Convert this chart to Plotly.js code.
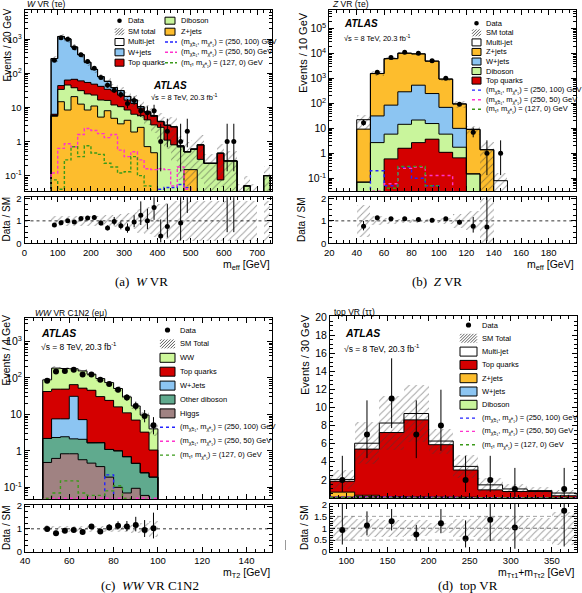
<!DOCTYPE html>
<html>
<head>
<meta charset="utf-8">
<script src="https://cdn.plot.ly/plotly-3.0.1.min.js"></script>
<style>
  html, body { margin: 0; padding: 0; background: #ffffff; }
  #fig { width: 582px; height: 593px; }
</style>
</head>
<body>
<div id="fig"></div>
<script>
// ===== (a) W VR (τe): m_eff, 20 GeV bins =====
const wEdges = [80,100,120,140,160,180,200,220,240,260,280,300,320,340,360,380,400,420,440,460,480,500,520,540,560,580,600,620,640,660,680,700,720,740];
const wZjets = [5.5,14.7,8.4,20.7,12.5,8.4,11,5.2,8.0,4.8,3.3,4.2,1.9,2.6,0.71,0.47,0,0,0,0,0.15,0.15,0,0,0,0,0,0,0,0,0,0,0];
const wDiboson = [0.3,19,37,17,18.5,16.5,12,11.3,8,7,7.2,4.2,4.4,3.1,3.6,2.6,2.6,1.1,0.8,0.7,0.35,0.45,0.3,0.23,0.23,0.075,0.27,0.27,0.03,0.05,0.03,0,0.1];
const wTop = [0.5,10,18,29,29,29,25,25,18,19,12.5,8,6.7,3.8,2.7,2.4,1.2,1.9,1.9,0,0,0,0.5,0,0,0.38,0,0,0,0,0,0,0];
const wWjets = [264,1156,957,523,290,156,82,38,24,7,8,4.5,3.5,1.0,0.4,0.3,0.1,0,0,0.05,0,0,0,0,0,0,0,0,0,0,0,0,0];
const wMultijet = [1,3,3,2,1.5,1,0.5,0.5,0.3,0.3,0.2,0.2,0.1,0.1,0,0,0,0,0,0,0,0,0,0,0,0,0,0,0,0,0,0,0];
const wData = [240,1100,1000,560,350,220,140,75,45,32,24,13,16,8,7,8,1,2,0,1,2,0,0,0,0,0,1,1,0,0,0,0,0];
const wRatio = [0.82,0.92,1.0,0.95,1.1,1.13,1.15,0.9,0.68,0.97,0.78,0.65,0.95,1.25,1.0,1.6,0.32,0.75,null,0.9,4.0,null,null,null,null,null,3.7,3.7,null,null,null,null,null];
const wRelErr = [0.22,0.22,0.22,0.22,0.22,0.22,0.22,0.22,0.25,0.28,0.3,0.33,0.38,0.55,0.6,0.7,0.75,0.8,0.9,0.9,0.9,0.9,0.9,0.9,0.9,0.9,0.9,0.9,0.9,0.9,0.9,0.9,0.9];
const wSig250_100 = [0,0,0,0,0,0,0,0,0,0,0,0,0,0,0,0,0.04,0.045,0.045,0.055,0.045,0,0,0,0,0,0,0,0,0,0,0,0];
const wSig250_50 = [0.12,0.63,0.86,0.7,1.6,2.4,2.1,1.7,1.3,1.6,0.56,0.36,0.5,0.29,0.16,0.15,0.16,0.15,0.05,0.18,0.04,0,0,0,0,0,0,0,0,0,0,0,0];
const wSig127_0 = [0.075,0.04,0.29,0.7,0.36,0.75,0.46,0.42,0.23,0.18,0.12,0.13,0.36,0.1,0.05,0,0,0,0,0,0,0,0,0,0,0,0,0,0,0,0,0,0];

// ===== (b) Z VR (τe): m_eff, 10 GeV bins =====
const zEdges = [40,50,60,70,80,90,100,110,120,130,140,150];
const zTop = [0,0,0.6,1.6,2.7,3.7,1.1,0.66,0,0,0];
const zDiboson = [0.07,2.7,5.3,13,19,12,4.8,1.1,0.15,0,0];
const zWjets = [0,29,80,280,520,235,64,8.3,0,0,0];
const zZjets = [9.3,1550,6200,10100,9250,4750,880,85,9,1.4,0];
const zMultijet = [13,20,30,20,10,5,5,2,0.05,0,0.08];
const zData = [17,1800,7000,11400,10400,5200,1040,93,7,1,1];
const zRatio = [0.76,1.14,1.09,1.09,1.06,1.03,1.09,0.94,0.76,0.73,null];
const zRelErr = [0.6,0.2,0.13,0.1,0.1,0.1,0.15,0.3,0.42,1.0,0.95];
const zRatioBand = [0.7,0.2,0.13,0.1,0.1,0.1,0.15,0.32,0.42,1.0,null];
const zSig250_100 = [0,0.2,0.05,0.28,0.1,0.05,0,0,0,0,0];
const zSig250_50 = [0,0.03,0.06,0.25,0.28,0.13,0.13,0,0,0,0];
const zSig127_0 = [0,0,0.04,0.3,0.3,0.05,0,0,0,0,0];

// ===== (c) WW VR C1N2 (eμ): m_T2, 4 GeV bins =====
const wwEdges = [48,52,56,60,64,68,72,76,80,84,88,92,96,100];
const wwHiggs = [0.48,0.62,0.83,0.83,0.57,0.46,0.37,0.19,0.1,0.07,0.094,0.06,0];
const wwOtherDib = [1.7,1.7,1.6,1.3,1.5,1.2,1.3,0.9,0.9,0.62,0.36,0.19,0.19];
const wwWjets = [0,5.2,5.1,29,5.1,0,0,0,0,0,0,0,0];
const wwTop = [40,41.5,41.5,34,45,44,29,23,15,10.3,6.5,3.0,0.86];
const wwWW = [46,136,131,112,103,80,65,50,35,19,10,6.3,2.95];
const wwData = [83,150,155,166,124,124,88,68,47,29,17,9,5];
const wwRatio = [0.99,0.8,0.92,0.95,0.86,1.1,0.88,1.06,1.14,1.1,1.17,0.95,1.02];
const wwRelErr = [0.15,0.13,0.13,0.13,0.13,0.13,0.13,0.13,0.15,0.15,0.18,0.25,0.35];
const wwSig250_100 = [0,0,0,0,0,0,0,0.22,0,0,0,0,0];
const wwSig250_50 = [0.05,0.05,0.05,0.05,0.05,0.05,0.05,0.05,0.05,0.05,0.05,0.05,0.05];
const wwSig127_0 = [0.05,0.07,0.15,0.15,0.07,0.06,0.06,0.08,0.11,0.05,0,0,0];

// ===== (d) top VR (ττ): m_Tτ1+m_Tτ2, 30 GeV bins =====
const tEdges = [80,110,140,170,200,230,260,290,320,350,380];
const tDiboson = [0.05,0.05,0.03,0.03,0.02,0.02,0,0,0,0];
const tWjets = [0.05,0.1,0.05,0.05,0.05,0.05,0,0,0,0];
const tZjets = [0.55,0.15,0.05,0.05,0.02,0.02,0,0,0,0];
const tTop = [1.2,5.1,7.1,8.5,5.8,3.0,0.9,0.72,0.72,0.25];
const tMultijet = [0.2,0.65,1.05,0.7,0.4,0.4,0.55,0.28,0.1,0.3];
const tData = [2,7,11,7,8,2,2,1,0,1];
const tRatio = [0.93,1.11,1.29,0.74,1.21,0.57,1.36,1.03,null,1.74];
const tRelErr = [0.52,0.38,0.36,0.34,0.22,0.37,0.52,0.5,0.45,0.7];
const tSig250_100 = [0.08,0.1,0.08,0.06,0.05,0.04,0.03,0.03,0.02,0.02];
const tSig250_50 = [0.06,0.08,0.07,0.05,0.04,0.03,0.02,0.02,0.02,0.01];
const tSig127_0 = [0.02,0.03,0.03,0.02,0.02,0.01,0.01,0,0,0];

// ===== styling =====
const FONT = 'Liberation Sans, Arial, Helvetica, sans-serif';
const SERIF = 'Liberation Serif, Times New Roman, serif';
const COL = {
  wjets: '#8cc5f2', zjets: '#fdbd2d', diboson: '#c9f59c', top: '#d40000', multijet: '#ffffff',
  ww: '#cdf89a', otherdib: '#60aa8e', higgs: '#a08282',
  sigBlue: '#2323ff', sigMagenta: '#ff33cc', sigGreen: '#3a9a1a'
};

const W = 582, H = 593;
const px = x => x / W;
const py = y => 1 - y / H;

const traces = [];
const shapes = [];
const annotations = [];

function centers(e) { const c = []; for (let i = 0; i < e.length - 1; i++) c.push((e[i] + e[i + 1]) / 2); return c; }
function widths(e) { const c = []; for (let i = 0; i < e.length - 1; i++) c.push(e[i + 1] - e[i]); return c; }

// closed histogram outline (drops to the floor at both ends and at empty bins)
function stepPath(edges, vals, floor) {
  const x = [edges[0]], y = [floor];
  for (let i = 0; i < vals.length; i++) {
    const v = vals[i] > 0 ? vals[i] : floor;
    x.push(edges[i], edges[i + 1]); y.push(v, v);
  }
  x.push(edges[edges.length - 1]); y.push(floor);
  return { x, y };
}

// approximate 68% Poisson interval on an observed count
function poissonUp(n) { return Math.sqrt(n + 0.75) + 1; }
function poissonDown(n) { return n > 0 ? Math.sqrt(n - 0.25) : 0; }

function hatchBar(x, w, base, span, xa, ya) {
  return {
    type: 'bar', x, y: span, base, width: w, xaxis: xa, yaxis: ya, hoverinfo: 'skip',
    marker: { color: 'rgba(0,0,0,0)', line: { width: 0 },
      pattern: { shape: '/', size: 5, solidity: 0.18, fgcolor: '#3a3a3a', bgcolor: 'rgba(0,0,0,0)', fillmode: 'overlay' } }
  };
}
function lineTrace(s, xa, ya, color, width, dash) {
  return { type: 'scatter', mode: 'lines', x: s.x, y: s.y, xaxis: xa, yaxis: ya, hoverinfo: 'skip',
    line: { color, width, dash, shape: 'linear' } };
}

function drawPanel(p) {
  const [xa, ya, xr, yr] = p.axes;
  const c = centers(p.edges), w = widths(p.edges), n = c.length;
  const floor = p.log ? 1e-5 : 0;
  let cum = new Array(n).fill(0);
  const tops = [];
  for (const L of p.layers) {
    const base = cum.map(v => Math.max(v, floor));
    traces.push({ type: 'bar', x: c, y: L.vals.slice(), base, width: w, xaxis: xa, yaxis: ya,
      marker: { color: L.color, line: { width: 0 } }, hoverinfo: 'skip' });
    cum = cum.map((v, i) => v + L.vals[i]);
    tops.push(cum);
  }
  const total = cum;

  // SM uncertainty band
  const lo = [], span = [];
  total.forEach((t, i) => {
    if (t > 0 && p.relErr[i] != null) {
      const l = Math.max(t * (1 - p.relErr[i]), floor);
      lo.push(l); span.push(t * (1 + p.relErr[i]) - l);
    } else { lo.push(null); span.push(null); }
  });
  traces.push(hatchBar(c, w, lo, span, xa, ya));

  // stack outlines
  tops.forEach(t => traces.push(lineTrace(stepPath(p.edges, t, floor), xa, ya, '#000', 1, 'solid')));

  // signal benchmarks
  p.signals.forEach(S => traces.push(lineTrace(stepPath(p.edges, S.vals, floor), xa, ya, S.color, 1.4, S.dash)));

  // data
  traces.push({ type: 'scatter', mode: 'markers', x: c, y: p.data.map(v => v > 0 ? v : null), xaxis: xa, yaxis: ya,
    hoverinfo: 'skip', marker: { color: '#000', size: p.msize },
    error_y: { type: 'data', symmetric: false, array: p.data.map(v => v > 0 ? poissonUp(v) : 0),
      arrayminus: p.data.map(v => v > 0 ? poissonDown(v) : 0), color: '#000', thickness: 1, width: 0 } });

  // ratio band
  const band = p.ratioBand || p.relErr;
  const rlo = [], rspan = [];
  band.forEach((e, i) => {
    if (e == null || !(total[i] > 0)) { rlo.push(null); rspan.push(null); }
    else { const l = Math.max(0, 1 - e); rlo.push(l); rspan.push(Math.min(1 + e, 3) - l); }
  });
  traces.push(hatchBar(c, w, rlo, rspan, xr, yr));

  // ratio points
  traces.push({ type: 'scatter', mode: 'markers', x: c, y: p.ratio, xaxis: xr, yaxis: yr, hoverinfo: 'skip',
    marker: { color: '#000', size: p.msize },
    error_y: { type: 'data', symmetric: false,
      array: p.ratio.map((r, i) => r == null ? 0 : r * poissonUp(p.data[i]) / p.data[i]),
      arrayminus: p.ratio.map((r, i) => r == null ? 0 : r * poissonDown(p.data[i]) / p.data[i]),
      color: '#000', thickness: 1, width: 0 } });
}

drawPanel({
  axes: ['x', 'y', 'x2', 'y2'], log: true, edges: wEdges, msize: 5,
  layers: [
    { vals: wZjets, color: COL.zjets }, { vals: wDiboson, color: COL.diboson },
    { vals: wTop, color: COL.top }, { vals: wWjets, color: COL.wjets }, { vals: wMultijet, color: COL.multijet }
  ],
  relErr: wRelErr, data: wData, ratio: wRatio,
  signals: [
    { vals: wSig250_100, color: COL.sigBlue, dash: '3px,2px' },
    { vals: wSig250_50, color: COL.sigMagenta, dash: '3px,2px' },
    { vals: wSig127_0, color: COL.sigGreen, dash: '3px,2px' }
  ]
});
drawPanel({
  axes: ['x3', 'y3', 'x4', 'y4'], log: true, edges: zEdges, msize: 5,
  layers: [
    { vals: zTop, color: COL.top }, { vals: zDiboson, color: COL.diboson },
    { vals: zWjets, color: COL.wjets }, { vals: zZjets, color: COL.zjets }, { vals: zMultijet, color: COL.multijet }
  ],
  relErr: zRelErr, ratioBand: zRatioBand, data: zData, ratio: zRatio,
  signals: [
    { vals: zSig250_100, color: COL.sigBlue, dash: 'dot' },
    { vals: zSig250_50, color: COL.sigMagenta, dash: 'dot' },
    { vals: zSig127_0, color: COL.sigGreen, dash: 'dot' }
  ]
});
drawPanel({
  axes: ['x5', 'y5', 'x6', 'y6'], log: true, edges: wwEdges, msize: 6,
  layers: [
    { vals: wwHiggs, color: COL.higgs }, { vals: wwOtherDib, color: COL.otherdib },
    { vals: wwWjets, color: COL.wjets }, { vals: wwTop, color: COL.top }, { vals: wwWW, color: COL.ww }
  ],
  relErr: wwRelErr, data: wwData, ratio: wwRatio,
  signals: [
    { vals: wwSig250_100, color: COL.sigBlue, dash: 'dot' },
    { vals: wwSig250_50, color: COL.sigMagenta, dash: 'dot' },
    { vals: wwSig127_0, color: COL.sigGreen, dash: 'dot' }
  ]
});
drawPanel({
  axes: ['x7', 'y7', 'x8', 'y8'], log: false, edges: tEdges, msize: 6,
  layers: [
    { vals: tDiboson, color: COL.diboson }, { vals: tWjets, color: COL.wjets },
    { vals: tZjets, color: COL.zjets }, { vals: tTop, color: COL.top }, { vals: tMultijet, color: COL.multijet }
  ],
  relErr: tRelErr, data: tData, ratio: tRatio,
  signals: [
    { vals: tSig250_100, color: COL.sigBlue, dash: 'dot' },
    { vals: tSig250_50, color: COL.sigMagenta, dash: 'dot' },
    { vals: tSig127_0, color: COL.sigGreen, dash: 'dot' }
  ]
});

// ===== axes =====
const AX = {
  showline: true, linecolor: '#000', linewidth: 1, mirror: 'allticks', ticks: 'inside', ticklen: 5,
  tickwidth: 1, tickcolor: '#000', showgrid: false, zeroline: false, fixedrange: true,
  tickfont: { family: FONT, size: 9.5, color: '#000' }
};
function xAx(d, range, o) { return Object.assign({}, AX, { domain: [px(d[0]), px(d[1])], range }, o); }
function yAx(d, range, o) { return Object.assign({}, AX, { domain: [py(d[1]), py(d[0])], range }, o); }
function logMinor(lo, hi) { const v = []; for (let e = lo; e <= hi; e++) for (let m = 2; m <= 9; m++) v.push(m * Math.pow(10, e)); return v; }
const SUP = e => e === 0 ? '1' : (e === 1 ? '10' : '10<sup>' + e + '</sup>');
function logTicks(lo, hi) { const v = [], t = []; for (let e = lo; e <= hi; e++) { v.push(Math.pow(10, e)); t.push(SUP(e)); } return { v, t }; }

const A_X = [24.5, 272], B_X = [329.3, 576], C_X = [25, 272], D_X = [330, 576.5];
const AB_MAIN = [9.5, 191], AB_RATIO = [197.3, 243.3];
const C_MAIN = [318, 499], C_RATIO = [505, 551.5];
const D_MAIN = [316, 498], D_RATIO = [504, 552];

const ltA = logTicks(-1, 3), ltB = logTicks(-1, 5), ltC = logTicks(-1, 3);
const ratioY = (d) => yAx(d, [0, 2.05], { tickmode: 'array', tickvals: [0, 1, 2], ticktext: ['0', '1', '2'],
  minor: { ticks: 'inside', ticklen: 3, tickmode: 'array', tickvals: [0.25, 0.5, 0.75, 1.25, 1.5, 1.75], tickcolor: '#000' } });

const layout = {
  width: W, height: H, margin: { l: 0, r: 0, t: 0, b: 0 }, showlegend: false,
  paper_bgcolor: '#ffffff', plot_bgcolor: '#ffffff', barmode: 'overlay', bargap: 0,
  font: { family: FONT, color: '#000' },

  xaxis: xAx(A_X, [0, 745], { anchor: 'y', showticklabels: false, tick0: 0, dtick: 100,
    minor: { ticks: 'inside', ticklen: 3, tick0: 0, dtick: 20, tickcolor: '#000' } }),
  yaxis: yAx(AB_MAIN, [-1.45, 3.87], { anchor: 'x', type: 'log', tickmode: 'array', tickvals: ltA.v, ticktext: ltA.t,
    minor: { ticks: 'inside', ticklen: 3, tickmode: 'array', tickvals: logMinor(-2, 3), tickcolor: '#000' } }),
  xaxis2: xAx(A_X, [0, 745], { anchor: 'y2', tick0: 0, dtick: 100,
    minor: { ticks: 'inside', ticklen: 3, tick0: 0, dtick: 20, tickcolor: '#000' } }),
  yaxis2: Object.assign(ratioY(AB_RATIO), { anchor: 'x2' }),

  xaxis3: xAx(B_X, [20, 200], { anchor: 'y3', showticklabels: false, tick0: 0, dtick: 20,
    minor: { ticks: 'inside', ticklen: 3, tick0: 0, dtick: 5, tickcolor: '#000' } }),
  yaxis3: yAx(AB_MAIN, [-1.51, 5.77], { anchor: 'x3', type: 'log', tickmode: 'array', tickvals: ltB.v, ticktext: ltB.t,
    tickfont: { family: FONT, size: 10.5, color: '#000' },
    minor: { ticks: 'inside', ticklen: 3, tickmode: 'array', tickvals: logMinor(-2, 5), tickcolor: '#000' } }),
  xaxis4: xAx(B_X, [20, 200], { anchor: 'y4', tick0: 0, dtick: 20,
    minor: { ticks: 'inside', ticklen: 3, tick0: 0, dtick: 5, tickcolor: '#000' } }),
  yaxis4: Object.assign(ratioY(AB_RATIO), { anchor: 'x4' }),

  xaxis5: xAx(C_X, [40, 151.5], { anchor: 'y5', showticklabels: false, tick0: 40, dtick: 20,
    minor: { ticks: 'inside', ticklen: 3, tick0: 40, dtick: 4, tickcolor: '#000' } }),
  yaxis5: yAx(C_MAIN, [-1.32, 3.64], { anchor: 'x5', type: 'log', tickmode: 'array', tickvals: ltC.v, ticktext: ltC.t,
    tickfont: { family: FONT, size: 10.5, color: '#000' },
    minor: { ticks: 'inside', ticklen: 3, tickmode: 'array', tickvals: logMinor(-2, 3), tickcolor: '#000' } }),
  xaxis6: xAx(C_X, [40, 151.5], { anchor: 'y6', tick0: 40, dtick: 20,
    minor: { ticks: 'inside', ticklen: 3, tick0: 40, dtick: 4, tickcolor: '#000' } }),
  yaxis6: Object.assign(ratioY(C_RATIO), { anchor: 'x6' }),

  xaxis7: xAx(D_X, [80, 380], { anchor: 'y7', showticklabels: false, tick0: 0, dtick: 50,
    minor: { ticks: 'inside', ticklen: 3, tick0: 0, dtick: 10, tickcolor: '#000' } }),
  yaxis7: yAx(D_MAIN, [0, 20.1], { anchor: 'x7', tickmode: 'array', tickvals: [2,4,6,8,10,12,14,16,18,20],
    tickfont: { family: FONT, size: 10.5, color: '#000' },
    minor: { ticks: 'inside', ticklen: 3, tick0: 0, dtick: 0.5, tickcolor: '#000' } }),
  xaxis8: xAx(D_X, [80, 380], { anchor: 'y8', tick0: 0, dtick: 50,
    minor: { ticks: 'inside', ticklen: 3, tick0: 0, dtick: 10, tickcolor: '#000' } }),
  yaxis8: yAx(D_RATIO, [0, 2.02], { anchor: 'x8', tickmode: 'array', tickvals: [0, 0.5, 1, 1.5, 2],
    ticktext: ['0', '0.5', '1', '1.5', '2'],
    minor: { ticks: 'inside', ticklen: 3, tick0: 0, dtick: 0.1, tickcolor: '#000' } }),

  shapes, annotations
};

// reference lines in the ratio panels
function refLine(xr, yr, yv, dash, color, width) {
  shapes.push({ type: 'line', xref: xr + ' domain', yref: yr, x0: 0, x1: 1, y0: yv, y1: yv, layer: 'above',
    line: { color, width, dash } });
}
refLine('x2', 'y2', 1, 'dot', '#000', 0.8); refLine('x4', 'y4', 1, 'dot', '#000', 0.8); refLine('x6', 'y6', 1, 'dot', '#000', 0.8);
refLine('x8', 'y8', 0.5, '4px,3px', '#666', 0.6); refLine('x8', 'y8', 1, '4px,3px', '#333', 0.7); refLine('x8', 'y8', 1.5, '4px,3px', '#666', 0.6);

// ===== text helpers (pixel positions on the page) =====
function txt(x, y, s, size, o) {
  annotations.push(Object.assign({ xref: 'paper', yref: 'paper', x: px(x), y: py(y), text: s, showarrow: false,
    xanchor: 'left', yanchor: 'middle', font: { family: FONT, size, color: '#000' } }, o || {}));
}
function box(x0, yc, x1, h, fill) {
  shapes.push({ type: 'rect', xref: 'paper', yref: 'paper', x0: px(x0), x1: px(x1), y0: py(yc + h / 2), y1: py(yc - h / 2),
    fillcolor: fill, line: { color: '#000', width: 1 } });
}
function hatchIcon(x0, yc, x1, h, step) {
  const y0 = yc - h / 2, y1 = yc + h / 2, w = x1 - x0;
  for (let c = -h + step / 2; c < w; c += step) {
    const u0 = Math.max(0, c), u1 = Math.min(w, c + h);
    if (u1 <= u0) continue;
    shapes.push({ type: 'line', xref: 'paper', yref: 'paper', x0: px(x0 + u0), y0: py(y1 - (u0 - c)),
      x1: px(x0 + u1), y1: py(y1 - (u1 - c)), line: { color: '#333', width: 0.8 } });
  }
}
function dotIcon(x, y, r) {
  shapes.push({ type: 'circle', xref: 'paper', yref: 'paper', x0: px(x - r), x1: px(x + r), y0: py(y + r), y1: py(y - r),
    fillcolor: '#000', line: { color: '#000', width: 0 } });
}
function lineIcon(x0, x1, y, color, dash) {
  shapes.push({ type: 'line', xref: 'paper', yref: 'paper', x0: px(x0), x1: px(x1), y0: py(y), y1: py(y),
    line: { color, width: 1.4, dash } });
}

const LFS = 7.5;
const SIG_TXT = [
  '(m<sub>χ̃±₁</sub>, m<sub>χ̃⁰₁</sub>) = (250, 100) GeV',
  '(m<sub>χ̃±₁</sub>, m<sub>χ̃⁰₁</sub>) = (250, 50) GeV',
  '(m<sub>τ̃</sub>, m<sub>χ̃⁰₁</sub>) = (127, 0) GeV'
];
const SIG_COL = [COL.sigBlue, COL.sigMagenta, COL.sigGreen];
const CAP = { family: SERIF, size: 13, color: '#000' };

// ---- (a) legend and labels ----
{
  const rows = [20.7, 31.7, 42, 52.3, 62.7];
  dotIcon(119.5, rows[0], 2.3); txt(126, rows[0], 'Data', LFS);
  hatchIcon(115, rows[1], 124, 7, 3); txt(126, rows[1], 'SM total', LFS);
  box(115, rows[2], 124, 7, COL.multijet); txt(126, rows[2], 'Multi-jet', LFS);
  box(115, rows[3], 124, 7, COL.wjets); txt(126, rows[3], 'W+jets', LFS);
  box(115, rows[4], 124, 7, COL.top); txt(126, rows[4], 'Top quarks', LFS);
  box(165, rows[0], 175, 7, COL.diboson); txt(179, rows[0], 'Diboson', LFS);
  box(165, rows[1], 175, 7, COL.zjets); txt(179, rows[1], 'Z+jets', LFS);
  for (let k = 0; k < 3; k++) { lineIcon(165, 177, rows[2 + k], SIG_COL[k], '3px,2px'); txt(179, rows[2 + k], SIG_TXT[k], LFS); }
  txt(151, 85, '<b><i>ATLAS</i></b>', 10);
  txt(149, 96.7, '√s = 8 TeV, 20.3 fb<sup>-1</sup>', 7.5);
  txt(25, 4.5, '<i>W</i> VR (τe)', 8.5);
  txt(6.5, 45, 'Events / 20 GeV', 10, { textangle: -90, xanchor: 'center' });
  txt(6.5, 220, 'Data / SM', 10, { textangle: -90, xanchor: 'center' });
  txt(272, 264.5, 'm<sub>eff</sub> [GeV]', 10.5, { xanchor: 'right' });
  txt(141, 281.5, '(a)\u00a0\u00a0<i>W</i> VR', 13, { xanchor: 'center', font: CAP });
}

// ---- (b) legend and labels ----
{
  const r = k => 23.3 + 9.55 * k;
  dotIcon(476.5, r(0), 2.3); txt(483.5, r(0), 'Data', LFS);
  hatchIcon(472, r(1), 481, 7, 3); txt(483.5, r(1), 'SM total', LFS);
  box(472, r(2), 481, 7, COL.multijet); txt(483.5, r(2), 'Multi-jet', LFS);
  box(472, r(3), 481, 7, COL.zjets); txt(483.5, r(3), 'Z+jets', LFS);
  box(472, r(4), 481, 7, COL.wjets); txt(483.5, r(4), 'W+jets', LFS);
  box(472, r(5), 481, 7, COL.diboson); txt(483.5, r(5), 'Diboson', LFS);
  box(472, r(6), 481, 7, COL.top); txt(483.5, r(6), 'Top quarks', LFS);
  for (let k = 0; k < 3; k++) { lineIcon(472, 481, r(7 + k), SIG_COL[k], 'dot'); txt(483.5, r(7 + k), SIG_TXT[k], LFS); }
  txt(342, 24, '<b><i>ATLAS</i></b>', 10);
  txt(342, 37.5, '√s = 8 TeV, 20.3 fb<sup>-1</sup>', 7.5);
  txt(330, 4.5, '<i>Z</i> VR (τe)', 8.5);
  txt(303, 53, 'Events / 10 GeV', 11, { textangle: -90, xanchor: 'center' });
  txt(302, 220, 'Data / SM', 10, { textangle: -90, xanchor: 'center' });
  txt(576, 264.5, 'm<sub>eff</sub> [GeV]', 10.5, { xanchor: 'right' });
  txt(437, 281.5, '(b)\u00a0\u00a0<i>Z</i> VR', 13, { xanchor: 'center', font: CAP });
}

// ---- (c) legend and labels ----
{
  const r = k => 330 + 13.9 * k;
  dotIcon(167.5, r(0), 2.6); txt(178, r(0), 'Data', LFS);
  hatchIcon(160, r(1), 175, 9, 3); txt(178, r(1), 'SM Total', LFS);
  box(160, r(2), 175, 9, COL.ww); txt(178, r(2), 'WW', LFS);
  box(160, r(3), 175, 9, COL.top); txt(178, r(3), 'Top quarks', LFS);
  box(160, r(4), 175, 9, COL.wjets); txt(178, r(4), 'W+Jets', LFS);
  box(160, r(5), 175, 9, COL.otherdib); txt(178, r(5), 'Other diboson', LFS);
  box(160, r(6), 175, 9, COL.higgs); txt(178, r(6), 'Higgs', LFS);
  for (let k = 0; k < 3; k++) { lineIcon(160, 175, r(7 + k), SIG_COL[k], 'dot'); txt(178, r(7 + k), SIG_TXT[k], LFS); }
  txt(39, 333, '<b><i>ATLAS</i></b>', 10.5);
  txt(39, 347, '√s = 8 TeV, 20.3 fb<sup>-1</sup>', 8.5);
  txt(33, 312.5, '<i>WW</i> VR C1N2 (eμ)', 8.5);
  txt(5.5, 350, 'Events / 4 GeV', 10.5, { textangle: -90, xanchor: 'center' });
  txt(6, 528, 'Data / SM', 10, { textangle: -90, xanchor: 'center' });
  txt(272, 572.5, 'm<sub>T2</sub> [GeV]', 10.5, { xanchor: 'right' });
  txt(150, 585.5, '(c)\u00a0\u00a0<i>WW</i> VR C1N2', 13, { xanchor: 'center', font: CAP });
}

// ---- (d) legend and labels ----
{
  const r = k => 325 + 13.3 * k;
  dotIcon(468.5, r(0), 2.6); txt(480, r(0), 'Data', LFS);
  hatchIcon(460, r(1), 477, 9, 3); txt(480, r(1), 'SM Total', LFS);
  box(460, r(2), 477, 9, COL.multijet); txt(480, r(2), 'Multi-jet', LFS);
  box(460, r(3), 477, 9, COL.top); txt(480, r(3), 'Top quarks', LFS);
  box(460, r(4), 477, 9, COL.zjets); txt(480, r(4), 'Z+jets', LFS);
  box(460, r(5), 477, 9, COL.wjets); txt(480, r(5), 'W+jets', LFS);
  box(460, r(6), 477, 9, COL.diboson); txt(480, r(6), 'Diboson', LFS);
  for (let k = 0; k < 3; k++) { lineIcon(460, 477, r(7 + k), SIG_COL[k], 'dot'); txt(480, r(7 + k), SIG_TXT[k], LFS); }
  txt(343, 332.5, '<b><i>ATLAS</i></b>', 10.5);
  txt(342, 348.5, '√s = 8 TeV, 20.3 fb<sup>-1</sup>', 8.5);
  txt(332, 311.5, 'top VR (ττ)', 8.5);
  txt(305, 355, 'Events / 30 GeV', 11, { textangle: -90, xanchor: 'center' });
  txt(304, 528, 'Data / SM', 10, { textangle: -90, xanchor: 'center' });
  txt(576, 573, 'm<sub>Tτ1</sub>+m<sub>Tτ2</sub> [GeV]', 10.5, { xanchor: 'right' });
  txt(468, 585.5, '(d)\u00a0\u00a0top VR', 13, { xanchor: 'center', font: CAP });
}

// small separator tick between the lower panels
shapes.push({ type: 'line', xref: 'paper', yref: 'paper', x0: px(285.5), x1: px(285.5), y0: py(550), y1: py(540),
  line: { color: '#999', width: 1 } });

Plotly.newPlot('fig', traces, layout, { staticPlot: true, displayModeBar: false });
</script>
</body>
</html>
